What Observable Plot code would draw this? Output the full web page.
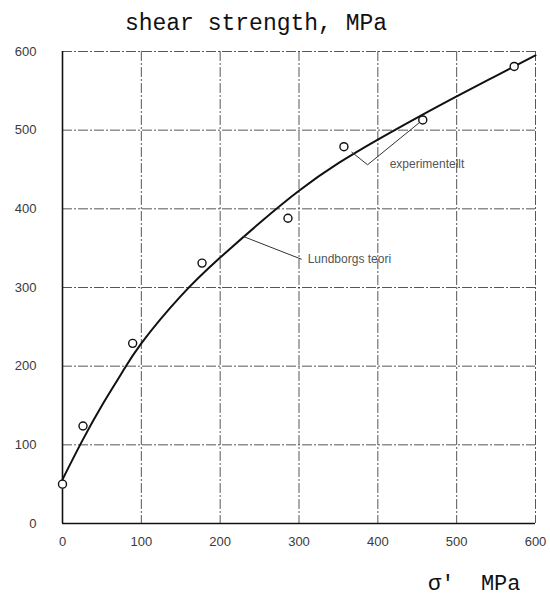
<!DOCTYPE html>
<html><head><meta charset="utf-8">
<script src="https://cdn.jsdelivr.net/npm/d3@7"></script>
<script src="https://cdn.jsdelivr.net/npm/@observablehq/plot@0.6"></script>
<style>body{margin:0;background:#fff}</style>
</head><body><div id="chart"></div>
<script>
// Lundborg theory curve
const sigmaTheory = [0, 25, 50, 75, 100, 150, 200, 250, 300, 350, 400, 450, 500, 550, 600];
const tauTheory   = [56, 105, 150, 191, 229, 289, 338, 382, 423, 458, 488, 516, 543, 569, 595];
// experimental points
const sigmaExp = [0, 26, 89, 177, 286, 357, 457, 573];
const tauExp   = [50, 124, 229, 331, 388, 479, 513, 581];
// ticks
const xTicks = [0, 100, 200, 300, 400, 500, 600];
const yTicks = [0, 100, 200, 300, 400, 500, 600];
// annotation leaders
const lundLeaderX = [229, 303];
const lundLeaderY = [365, 336];
const expLeaderX = [367, 387, 452];
const expLeaderY = [472, 456, 509];
const labels = ["Lundborgs teori", "experimentellt"];
const labelX = [311, 415];
const labelY = [336, 457];

const theory = sigmaTheory.map((s, i) => ({s, t: tauTheory[i]}));
const exp = sigmaExp.map((s, i) => ({s, t: tauExp[i]}));
const lund = lundLeaderX.map((x, i) => ({x, y: lundLeaderY[i]}));
const expL = expLeaderX.map((x, i) => ({x, y: expLeaderY[i]}));
const lab = labels.map((text, i) => ({text, x: labelX[i], y: labelY[i]}));

const chart = Plot.plot({
  width: 550, height: 599,
  marginLeft: 62, marginRight: 15, marginTop: 51, marginBottom: 76,
  x: {domain: [0, 600]},
  y: {domain: [0, 600]},
  style: {fontFamily: "'Liberation Sans', sans-serif", fontSize: "13px", color: "#3a3a3a", background: "#fff"},
  marks: [
    Plot.gridX(xTicks.slice(1), {stroke: "#222", strokeOpacity: 0.85, strokeWidth: 0.9, strokeDasharray: "10,2,2,2"}),
    Plot.gridY(yTicks.slice(1), {stroke: "#222", strokeOpacity: 0.85, strokeWidth: 0.9, strokeDasharray: "10,2,2,2"}),
    Plot.ruleX([0], {stroke: "#111", strokeWidth: 1.6}),
    Plot.ruleY([0], {stroke: "#111", strokeWidth: 1.6}),
    Plot.line(theory, {x: "s", y: "t", stroke: "#111", strokeWidth: 2, curve: "natural"}),
    Plot.line(lund, {x: "x", y: "y", stroke: "#333", strokeWidth: 1}),
    Plot.line(expL, {x: "x", y: "y", stroke: "#333", strokeWidth: 1}),
    Plot.dot(exp, {x: "s", y: "t", r: 4, stroke: "#111", fill: "white", strokeWidth: 1.4}),
    Plot.text(lab, {x: "x", y: "y", text: "text", textAnchor: "start", lineAnchor: "middle", fontSize: 12, fill: "#555"}),
    Plot.axisX({ticks: xTicks, tickSize: 0, tickPadding: 13, label: null}),
    Plot.axisY({ticks: yTicks, tickSize: 0, tickPadding: 26, label: null}),
    Plot.text(["shear strength, MPa"], {frameAnchor: "top", dx: -43, dy: -29, lineAnchor: "middle",
      fontFamily: "'Liberation Mono', monospace", fontSize: 23, fill: "#111"}),
    Plot.text(["σ'\u00a0 MPa"], {frameAnchor: "bottom-right", dx: -15, dy: 66, lineAnchor: "bottom", textAnchor: "end",
      fontFamily: "'Liberation Mono', monospace", fontSize: 22, fill: "#111"})
  ]
});
document.getElementById("chart").append(chart);
</script>
</body></html>
